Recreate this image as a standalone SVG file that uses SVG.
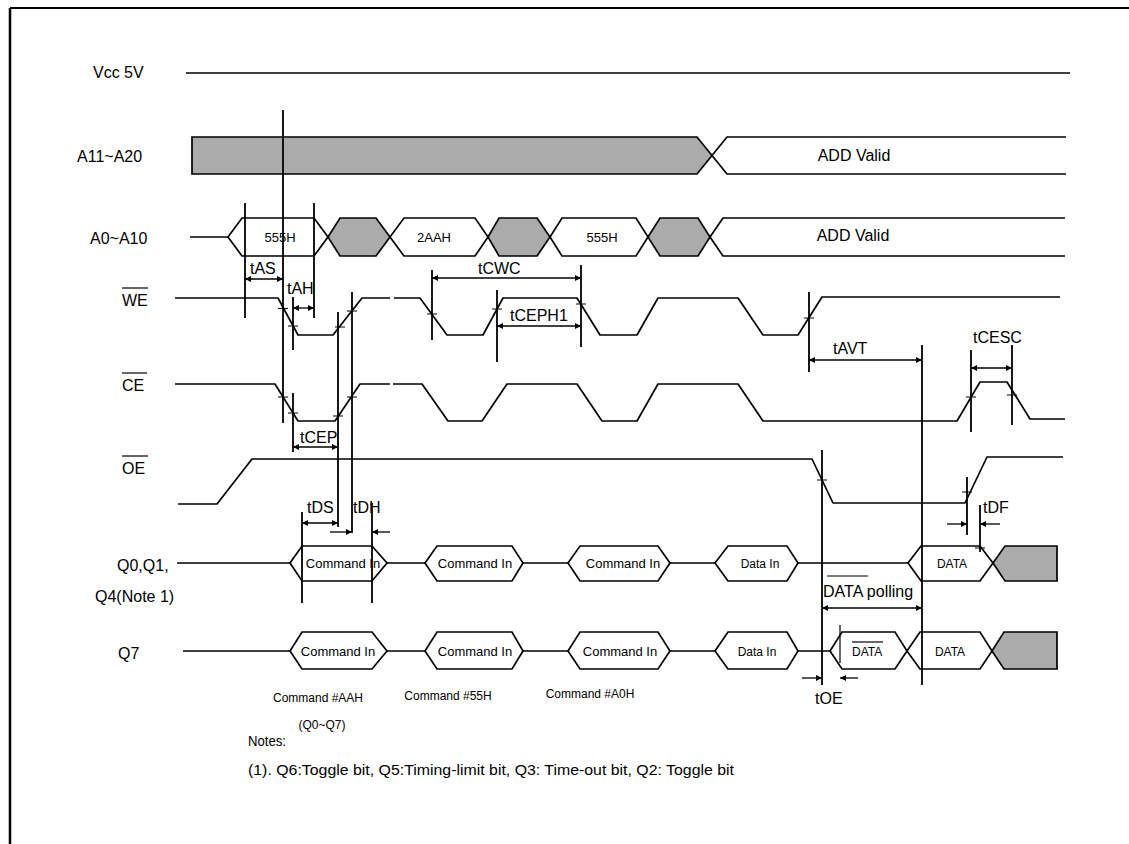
<svg xmlns="http://www.w3.org/2000/svg" width="1129" height="844" viewBox="0 0 1129 844">
<defs>
<marker id="ah" viewBox="0 0 10 10" refX="10" refY="5" markerWidth="8" markerHeight="6" orient="auto-start-reverse" markerUnits="userSpaceOnUse"><path d="M0,0 L10,5 L0,10 z" fill="#000"/></marker>
<style>
.w{fill:none;stroke:#000;stroke-width:1.7;stroke-linejoin:round}
.g{fill:#ababab;stroke:#000;stroke-width:1.7}
.h{fill:#fff;stroke:#000;stroke-width:1.7}
.v{stroke:#000;stroke-width:1.8}
.t{stroke:#000;stroke-width:1.2}
.d{stroke:#000;stroke-width:1.3;marker-start:url(#ah);marker-end:url(#ah)}
.o{stroke:#000;stroke-width:1.3;marker-end:url(#ah)}
text{font-family:"Liberation Sans",Arial,sans-serif;fill:#000}
.l{font-size:16px}
.s{font-size:13px}
.xs{font-size:12px}
.n{font-size:15px}
.c{text-anchor:middle}
</style>
</defs>
<g id="frame"><line x1="10" y1="8" x2="1129" y2="8" stroke="#000" stroke-width="2"/><line x1="10" y1="8" x2="10" y2="844" stroke="#000" stroke-width="2.5"/></g>

<g id="labels">
<text class="l" x="93" y="78">Vcc 5V</text>
<text class="l" x="77" y="162">A11~A20</text>
<text class="l" x="90" y="244">A0~A10</text>
<text class="l" x="122" y="306">WE</text><line x1="122" y1="288" x2="148" y2="288" class="t"/>
<text class="l" x="122" y="391">CE</text><line x1="122" y1="373" x2="147" y2="373" class="t"/>
<text class="l" x="122" y="474">OE</text><line x1="122" y1="456" x2="148" y2="456" class="t"/>
<text class="l" x="117" y="571">Q0,Q1,</text>
<text class="l" x="95" y="602">Q4(Note 1)</text>
<text class="l" x="118" y="659">Q7</text>
</g>

<g id="vcc"><line x1="186" y1="73" x2="1070" y2="73" class="w"/></g>

<g id="a11">
<polygon class="g" points="192,137 697,137 712,155.5 697,174 192,174"/>
<path class="w" d="M1066,137 L727,137 L712,155.5 L727,174 L1066,174"/>
<text class="l c" x="854" y="161">ADD Valid</text>
</g>

<g id="a0">
<line x1="190" y1="237" x2="228" y2="237" class="w"/>
<polygon class="h" points="228,237 242,218 314,218 328,237 314,256 242,256"/>
<polygon class="g" points="328,237 340,218 376,218 390,237 376,256 340,256"/>
<polygon class="h" points="390,237 404,218 475,218 488,237 475,256 404,256"/>
<polygon class="g" points="488,237 499,218 537,218 550,237 537,256 499,256"/>
<polygon class="h" points="550,237 562,218 636,218 648,237 636,256 562,256"/>
<polygon class="g" points="648,237 660,218 698,218 710,237 698,256 660,256"/>
<path class="w" d="M1065,218 L723,218 L710,237 L723,256 L1065,256"/>
<text class="s c" x="280" y="242">555H</text>
<text class="s c" x="434" y="242">2AAH</text>
<text class="s c" x="602" y="242">555H</text>
<text class="l c" x="853" y="241">ADD Valid</text>
</g>

<g id="we">
<path class="w" d="M175,298 L278,298 L298,335 L333,335 L362,298 L390,298 M394,298 L420,298 L447,335 L483,335 L503,298 L577,298 L600,335 L637,335 L658,298 L738,298 L763,335 L798,335 L822,297 L1060,297"/>
</g>
<g id="ce">
<path class="w" d="M175,384 L275,384 L298,421 L335,421 L360,384 L390,384 M393,384 L422,384 L448,421 L482,421 L507,384 L577,384 L602,421 L637,421 L658,384 L738,384 L763,421 L957,421 L980,382 L1007,382 L1030,419 L1065,419"/>
</g>
<g id="oe">
<path class="w" d="M178,504 L217,504 L252,459 L812,459 L833,503 L965,503 L987,457 L1063,457"/>
</g>

<g id="q0">
<path class="w" d="M177,563 L290,563 M387,563 L425,563 M523,563 L568,563 M670,563 L715,563 M798,563 L908,563"/>
<polygon class="h" points="290,563 302,546 372,546 387,563 372,581 302,581"/>
<polygon class="h" points="425,563 437,546 512,546 523,563 512,581 437,581"/>
<polygon class="h" points="568,563 580,546 658,546 670,563 658,581 580,581"/>
<polygon class="h" points="715,563 728,546 787,546 798,563 787,581 728,581"/>
<polygon class="h" points="908,563 921,546 980,546 993,563 980,581 921,581"/>
<polygon class="g" points="993,563 1005,546 1057,546 1057,581 1005,581"/>
<text class="s c" x="343" y="568">Command In</text>
<text class="s c" x="475" y="568">Command In</text>
<text class="s c" x="623" y="568">Command In</text>
<text class="xs c" x="760" y="568">Data In</text>
<text class="xs c" x="952" y="568">DATA</text>
</g>

<g id="q7">
<path class="w" d="M183,651 L290,651 M387,651 L425,651 M523,651 L568,651 M670,651 L715,651 M798,651 L830,651"/>
<polygon class="h" points="290,651 302,632 372,632 387,651 372,669 302,669"/>
<polygon class="h" points="425,651 437,632 512,632 523,651 512,669 437,669"/>
<polygon class="h" points="568,651 580,632 658,632 670,651 658,669 580,669"/>
<polygon class="h" points="715,651 728,632 787,632 798,651 787,669 728,669"/>
<polygon class="h" points="830,651 842,632 895,632 907,651 895,669 842,669"/>
<polygon class="h" points="907,651 920,632 980,632 992,651 980,669 920,669"/>
<polygon class="g" points="992,651 1004,632 1057,632 1057,669 1004,669"/>
<text class="s c" x="338" y="656">Command In</text>
<text class="s c" x="475" y="656">Command In</text>
<text class="s c" x="620" y="656">Command In</text>
<text class="xs c" x="757" y="656">Data In</text>
<text class="xs" x="852" y="656">DATA</text><line x1="852" y1="642" x2="883" y2="642" class="t"/>
<text class="xs c" x="950" y="656">DATA</text>
<line x1="840" y1="625" x2="840" y2="663" class="t"/>
<text class="xs c" x="318" y="702">Command #AAH</text>
<text class="xs c" x="322" y="729">(Q0~Q7)</text>
<text class="xs c" x="448" y="700">Command #55H</text>
<text class="xs c" x="590" y="698">Command #A0H</text>
</g>

<g id="connectors">
<line class="v" x1="245" y1="203" x2="245" y2="318"/>
<line class="v" x1="283" y1="110" x2="283" y2="423"/>
<line class="v" x1="293" y1="297" x2="293" y2="350"/>
<line class="v" x1="293" y1="393" x2="293" y2="452"/>
<line class="v" x1="314" y1="203" x2="314" y2="318"/>
<line class="v" x1="338" y1="312" x2="338" y2="527"/>
<line class="v" x1="352" y1="292" x2="352" y2="533"/>
<line class="v" x1="302" y1="512" x2="302" y2="603"/>
<line class="v" x1="372" y1="503" x2="372" y2="603"/>
<line class="v" x1="432" y1="270" x2="432" y2="340"/>
<line class="v" x1="581" y1="265" x2="581" y2="347"/>
<line class="v" x1="497" y1="290" x2="497" y2="362"/>
<line class="v" x1="809" y1="292" x2="809" y2="372"/>
<line class="v" x1="922" y1="345" x2="922" y2="685"/>
<line class="v" x1="822" y1="450" x2="822" y2="685"/>
<line class="v" x1="971" y1="350" x2="971" y2="432"/>
<line class="v" x1="1012" y1="345" x2="1012" y2="425"/>
<line class="v" x1="967" y1="477" x2="967" y2="535"/>
<line class="v" x1="980" y1="505" x2="980" y2="552"/>
<path class="t" d="M278,308.5h10 M288,326h10 M335,327h10 M347,311h10 M278,397h10 M288,413h10 M333,416h10 M347,397h10 M427,314h10 M492,309h10 M576,304h10 M804,318h10 M817,480h10 M966,397h10 M1007,395h10 M962,492h10 M975,548h10"/>
<line class="d" x1="245" y1="279" x2="283" y2="279"/>
<line class="d" x1="293" y1="308" x2="314" y2="308"/>
<line class="d" x1="293" y1="447" x2="338" y2="447"/>
<line class="d" x1="432" y1="278" x2="581" y2="278"/>
<line class="d" x1="497" y1="326" x2="581" y2="326"/>
<line class="d" x1="302" y1="523" x2="338" y2="523"/>
<line class="o" x1="330" y1="532" x2="352" y2="532"/>
<line class="o" x1="390" y1="532" x2="372" y2="532"/>
<line class="d" x1="809" y1="360" x2="922" y2="360"/>
<line class="d" x1="971" y1="368" x2="1012" y2="368"/>
<line class="o" x1="947" y1="524" x2="967" y2="524"/>
<line class="o" x1="1000" y1="524" x2="980" y2="524"/>
<line class="d" x1="822" y1="608" x2="922" y2="608"/>
<line class="o" x1="802" y1="678" x2="822" y2="678"/>
<line class="o" x1="858" y1="678" x2="840" y2="678"/>
</g>

<g id="timing-labels">
<text class="l" x="250" y="274">tAS</text>
<text class="l" x="287" y="294">tAH</text>
<text class="l" x="300" y="443">tCEP</text>
<text class="l" x="478" y="274">tCWC</text>
<text class="l" x="510" y="321">tCEPH1</text>
<text class="l" x="307" y="513">tDS</text>
<text class="l" x="353" y="513">tDH</text>
<text class="l" x="833" y="354">tAVT</text>
<text class="l" x="973" y="343">tCESC</text>
<text class="l" x="983" y="513">tDF</text>
<text class="l" x="823" y="597">DATA polling</text><line x1="827" y1="576" x2="868" y2="576" class="t"/>
<text class="l" x="815" y="704">tOE</text>
</g>

<g id="notes">
<text class="n" x="248" y="746" textLength="38" lengthAdjust="spacingAndGlyphs">Notes:</text>
<text class="n" x="248" y="775" textLength="486" lengthAdjust="spacingAndGlyphs">(1). Q6:Toggle bit, Q5:Timing-limit bit, Q3: Time-out bit, Q2: Toggle bit</text>
</g>
</svg>
